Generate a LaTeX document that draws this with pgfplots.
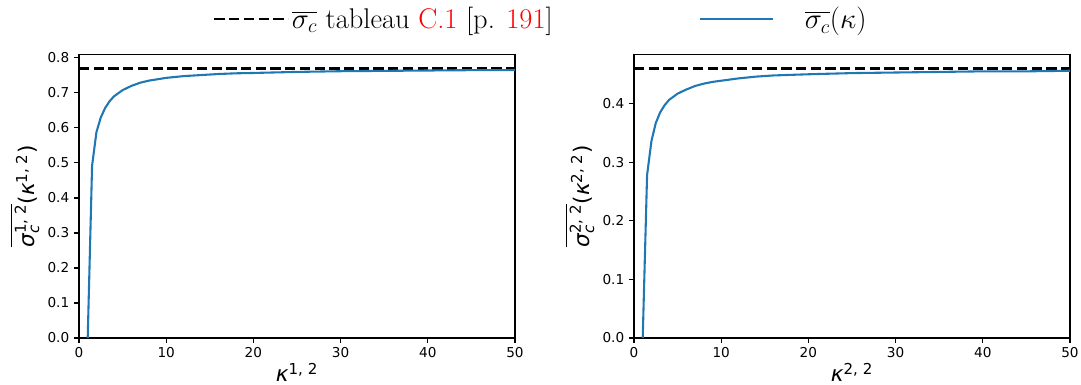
\documentclass[border=0pt]{standalone}
\usepackage{pgfplots}
\pgfplotsset{compat=1.18}
\usepackage{amsmath}
\usepackage{xcolor}
\usepackage{fontspec}
\newfontfamily\dvs{DejaVu Sans}
\definecolor{mplblue}{HTML}{1F77B4}

\pgfplotstableread{
k v
1 0
1.5 0.492
2 0.588
2.5 0.630
3 0.657
3.5 0.676
4 0.690
5 0.708
6 0.720
7 0.729
8 0.735
9 0.739
10 0.743
12 0.748
14 0.751
16 0.754
18 0.756
20 0.757
25 0.760
30 0.762
35 0.763
40 0.764
45 0.765
50 0.765
}\left

\pgfplotstableread{
k v
1 0
1.5 0.278
2 0.336
2.5 0.367
3 0.385
3.5 0.397
4 0.406
5 0.417
6 0.424
7 0.430
8 0.434
9 0.437
10 0.439
12 0.443
14 0.446
16 0.448
18 0.449
20 0.450
25 0.452
30 0.453
35 0.454
40 0.455
45 0.455
50 0.456
}\right

\pgfplotsset{
  mystyle/.style={
    scale only axis,
    width=313.9pt, height=203.8pt,
    xmin=0, xmax=50, ymin=0,
    xtick={0,10,...,50},
    axis line style={black, line width=0.8pt},
    tick style={black, line width=0.8pt},
    major tick length=3.5pt,
    tick align=outside,
    xtick pos=left, ytick pos=left,
    tick label style={font=\dvs\fontsize{9.8}{11}\selectfont},
    /pgf/number format/assume math mode=true,
    yticklabel style={/pgf/number format/fixed, /pgf/number format/fixed zerofill, /pgf/number format/precision=1},
    label style={font=\fontsize{15.5}{18}\selectfont},
    xlabel style={yshift=3pt},
    ylabel style={yshift=-1pt},
  }
}

\begin{document}
\begin{tikzpicture}
\path[use as bounding box] (-56.88pt,-33.84pt) rectangle (721.44pt,243.36pt);
\begin{axis}[mystyle,
  ymax=0.8085,
  ytick={0,0.1,...,0.8},
  xlabel={$\text{\dvs\itshape κ}^{\text{\dvs 1, 2}}$},
  ylabel={$\overline{\text{\dvs\itshape σ}^{\text{\dvs 1, 2}}_{\text{\dvs\itshape c}}}\text{\dvs (}\text{\dvs\itshape κ}^{\text{\dvs 1, 2}}\text{\dvs )}$},
  legend style={at={(0.298,1.127)}, anchor=west, draw=none, fill=none,
    font=\fontsize{20.5}{24}\selectfont, legend columns=2,
    /tikz/every even column/.append style={column sep=103pt}},
  legend image code/.code={\draw[#1] (0pt,0pt) -- (53pt,0pt);},
]
\addplot[black, line width=1.6pt, dash pattern=on 7.4pt off 3.2pt] coordinates {(0,0.77) (50,0.77)};
\addlegendentry{$\overline{\sigma_c}$ tableau \textcolor{red}{C.1} [p. \textcolor{red}{191}]}
\addplot[mplblue, line width=1.5pt] table[x=k, y=v] {\left};
\addlegendentry{\hspace{20pt}$\overline{\sigma_c}(\kappa)$}
\end{axis}
\begin{axis}[mystyle, at={(399.6pt,0pt)},
  ymax=0.483,
  ytick={0,0.1,...,0.4},
  xlabel={$\text{\dvs\itshape κ}^{\text{\dvs 2, 2}}$},
  ylabel={$\overline{\text{\dvs\itshape σ}^{\text{\dvs 2, 2}}_{\text{\dvs\itshape c}}}\text{\dvs (}\text{\dvs\itshape κ}^{\text{\dvs 2, 2}}\text{\dvs )}$},
]
\addplot[black, line width=1.6pt, dash pattern=on 7.4pt off 3.2pt] coordinates {(0,0.46) (50,0.46)};
\addplot[mplblue, line width=1.5pt] table[x=k, y=v] {\right};
\end{axis}
\end{tikzpicture}
\end{document}
